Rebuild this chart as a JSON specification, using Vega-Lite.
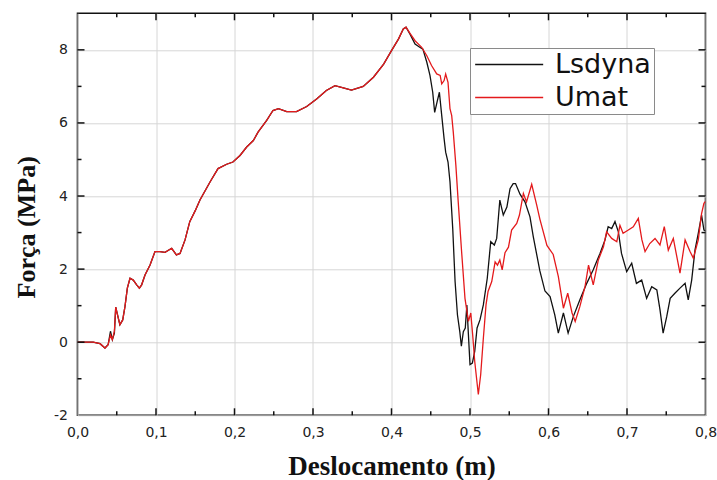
{
  "$schema": "https://vega.github.io/schema/vega-lite/v6.json",
  "width": 628,
  "height": 402,
  "autosize": {"type": "none"},
  "padding": {"left": 77.5, "top": 13.3, "right": 11.5, "bottom": 64.7},
  "background": "white",
  "config": {"view": {"stroke": "#111111", "strokeWidth": 1.6}},
  "datasets": {
    "xmaj": [{"x":0.1},{"x":0.2},{"x":0.3},{"x":0.4},{"x":0.5},{"x":0.6},{"x":0.7}],
    "xmin": [{"x":0.05},{"x":0.15},{"x":0.25},{"x":0.35},{"x":0.45},{"x":0.55},{"x":0.65},{"x":0.75}],
    "ymaj": [{"y":0},{"y":2},{"y":4},{"y":6},{"y":8}],
    "ymin": [{"y":-1},{"y":1},{"y":3},{"y":5},{"y":7}],
    "series": [
    {"s":"Lsdyna","x":0,"y":0},{"s":"Lsdyna","x":0.01,"y":0},{"s":"Lsdyna","x":0.02,"y":0},{"s":"Lsdyna","x":0.0287,"y":-0.04},{"s":"Lsdyna","x":0.035,"y":-0.16},{"s":"Lsdyna","x":0.039,"y":-0.07},{"s":"Lsdyna","x":0.042,"y":0.3},{"s":"Lsdyna","x":0.0444,"y":0.07},{"s":"Lsdyna","x":0.047,"y":0.25},{"s":"Lsdyna","x":0.0487,"y":0.96},{"s":"Lsdyna","x":0.051,"y":0.75},{"s":"Lsdyna","x":0.054,"y":0.48},{"s":"Lsdyna","x":0.0576,"y":0.61},{"s":"Lsdyna","x":0.0605,"y":0.98},{"s":"Lsdyna","x":0.0635,"y":1.48},{"s":"Lsdyna","x":0.0669,"y":1.75},{"s":"Lsdyna","x":0.071,"y":1.7},{"s":"Lsdyna","x":0.0754,"y":1.57},{"s":"Lsdyna","x":0.0788,"y":1.48},{"s":"Lsdyna","x":0.0817,"y":1.57},{"s":"Lsdyna","x":0.086,"y":1.84},{"s":"Lsdyna","x":0.0924,"y":2.11},{"s":"Lsdyna","x":0.0987,"y":2.48},{"s":"Lsdyna","x":0.105,"y":2.48},{"s":"Lsdyna","x":0.1115,"y":2.46},{"s":"Lsdyna","x":0.12,"y":2.57},{"s":"Lsdyna","x":0.126,"y":2.39},{"s":"Lsdyna","x":0.1306,"y":2.43},{"s":"Lsdyna","x":0.137,"y":2.8},{"s":"Lsdyna","x":0.143,"y":3.3},{"s":"Lsdyna","x":0.15,"y":3.6},{"s":"Lsdyna","x":0.156,"y":3.89},{"s":"Lsdyna","x":0.169,"y":4.39},{"s":"Lsdyna","x":0.179,"y":4.75},{"s":"Lsdyna","x":0.19,"y":4.87},{"s":"Lsdyna","x":0.198,"y":4.93},{"s":"Lsdyna","x":0.207,"y":5.11},{"s":"Lsdyna","x":0.2155,"y":5.34},{"s":"Lsdyna","x":0.224,"y":5.52},{"s":"Lsdyna","x":0.23,"y":5.75},{"s":"Lsdyna","x":0.241,"y":6.07},{"s":"Lsdyna","x":0.249,"y":6.34},{"s":"Lsdyna","x":0.256,"y":6.39},{"s":"Lsdyna","x":0.2665,"y":6.31},{"s":"Lsdyna","x":0.279,"y":6.31},{"s":"Lsdyna","x":0.292,"y":6.45},{"s":"Lsdyna","x":0.305,"y":6.66},{"s":"Lsdyna","x":0.317,"y":6.89},{"s":"Lsdyna","x":0.328,"y":7.02},{"s":"Lsdyna","x":0.3386,"y":6.96},{"s":"Lsdyna","x":0.349,"y":6.9},{"s":"Lsdyna","x":0.364,"y":7.0},{"s":"Lsdyna","x":0.377,"y":7.25},{"s":"Lsdyna","x":0.39,"y":7.61},{"s":"Lsdyna","x":0.4,"y":7.98},{"s":"Lsdyna","x":0.409,"y":8.3},{"s":"Lsdyna","x":0.415,"y":8.57},{"s":"Lsdyna","x":0.4185,"y":8.62},
    {"s":"Lsdyna","x":0.4236,"y":8.43},{"s":"Lsdyna","x":0.43,"y":8.16},{"s":"Lsdyna","x":0.436,"y":8.07},{"s":"Lsdyna","x":0.44,"y":8.02},{"s":"Lsdyna","x":0.445,"y":7.66},{"s":"Lsdyna","x":0.449,"y":7.3},{"s":"Lsdyna","x":0.4525,"y":6.84},{"s":"Lsdyna","x":0.455,"y":6.29},{"s":"Lsdyna","x":0.458,"y":6.57},{"s":"Lsdyna","x":0.461,"y":6.84},{"s":"Lsdyna","x":0.464,"y":6.2},{"s":"Lsdyna","x":0.467,"y":5.57},{"s":"Lsdyna","x":0.469,"y":5.2},{"s":"Lsdyna","x":0.472,"y":4.93},{"s":"Lsdyna","x":0.4745,"y":4.39},{"s":"Lsdyna","x":0.478,"y":3.11},{"s":"Lsdyna","x":0.481,"y":1.66},{"s":"Lsdyna","x":0.484,"y":0.75},{"s":"Lsdyna","x":0.487,"y":0.29},{"s":"Lsdyna","x":0.489,"y":-0.11},{"s":"Lsdyna","x":0.4915,"y":0.29},{"s":"Lsdyna","x":0.494,"y":0.39},{"s":"Lsdyna","x":0.496,"y":1.02},{"s":"Lsdyna","x":0.498,"y":0.2},{"s":"Lsdyna","x":0.5,"y":-0.61},{"s":"Lsdyna","x":0.503,"y":-0.57},{"s":"Lsdyna","x":0.506,"y":-0.25},{"s":"Lsdyna","x":0.509,"y":0.39},{"s":"Lsdyna","x":0.5127,"y":0.61},{"s":"Lsdyna","x":0.517,"y":1.02},{"s":"Lsdyna","x":0.522,"y":1.75},{"s":"Lsdyna","x":0.5264,"y":2.75},{"s":"Lsdyna","x":0.531,"y":2.66},{"s":"Lsdyna","x":0.534,"y":2.84},{"s":"Lsdyna","x":0.538,"y":3.89},{"s":"Lsdyna","x":0.5424,"y":3.48},{"s":"Lsdyna","x":0.547,"y":3.7},{"s":"Lsdyna","x":0.551,"y":4.2},{"s":"Lsdyna","x":0.555,"y":4.34},{"s":"Lsdyna","x":0.558,"y":4.34},{"s":"Lsdyna","x":0.5637,"y":4.05},{"s":"Lsdyna","x":0.57,"y":3.84},{"s":"Lsdyna","x":0.5764,"y":3.43},{"s":"Lsdyna","x":0.5806,"y":2.89},{"s":"Lsdyna","x":0.589,"y":1.95},{"s":"Lsdyna","x":0.5955,"y":1.4},{"s":"Lsdyna","x":0.602,"y":1.25},{"s":"Lsdyna","x":0.608,"y":0.75},{"s":"Lsdyna","x":0.6125,"y":0.25},{"s":"Lsdyna","x":0.619,"y":0.8},{"s":"Lsdyna","x":0.625,"y":0.25},{"s":"Lsdyna","x":0.6316,"y":0.7},{"s":"Lsdyna","x":0.64,"y":1.16},{"s":"Lsdyna","x":0.6487,"y":1.61},{"s":"Lsdyna","x":0.657,"y":1.98},{"s":"Lsdyna","x":0.6656,"y":2.43},{"s":"Lsdyna","x":0.672,"y":2.8},{"s":"Lsdyna","x":0.676,"y":3.16},{"s":"Lsdyna","x":0.6805,"y":3.11},{"s":"Lsdyna","x":0.6847,"y":3.3},{"s":"Lsdyna","x":0.689,"y":3.02},{"s":"Lsdyna","x":0.693,"y":2.43},{"s":"Lsdyna","x":0.6996,"y":1.93},{"s":"Lsdyna","x":0.706,"y":2.16},{"s":"Lsdyna","x":0.712,"y":1.61},{"s":"Lsdyna","x":0.7187,"y":1.7},{"s":"Lsdyna","x":0.725,"y":1.2},{"s":"Lsdyna","x":0.7315,"y":1.52},{"s":"Lsdyna","x":0.738,"y":1.43},{"s":"Lsdyna","x":0.742,"y":0.89},{"s":"Lsdyna","x":0.746,"y":0.25},{"s":"Lsdyna","x":0.7506,"y":0.7},{"s":"Lsdyna","x":0.755,"y":1.2},{"s":"Lsdyna","x":0.761,"y":1.34},{"s":"Lsdyna","x":0.7675,"y":1.48},{"s":"Lsdyna","x":0.774,"y":1.61},{"s":"Lsdyna","x":0.778,"y":1.16},{"s":"Lsdyna","x":0.7824,"y":1.7},{"s":"Lsdyna","x":0.7866,"y":2.52},{"s":"Lsdyna","x":0.7908,"y":2.98},{"s":"Lsdyna","x":0.795,"y":3.48},{"s":"Lsdyna","x":0.798,"y":3.07},{"s":"Lsdyna","x":0.8,"y":3.05},
    {"s":"Umat","x":0,"y":0},{"s":"Umat","x":0.01,"y":0},{"s":"Umat","x":0.02,"y":0},{"s":"Umat","x":0.0287,"y":-0.04},{"s":"Umat","x":0.035,"y":-0.16},{"s":"Umat","x":0.039,"y":-0.07},{"s":"Umat","x":0.042,"y":0.2},{"s":"Umat","x":0.0444,"y":0.07},{"s":"Umat","x":0.047,"y":0.3},{"s":"Umat","x":0.0487,"y":0.96},{"s":"Umat","x":0.051,"y":0.75},{"s":"Umat","x":0.054,"y":0.48},{"s":"Umat","x":0.0576,"y":0.61},{"s":"Umat","x":0.0605,"y":0.98},{"s":"Umat","x":0.0635,"y":1.48},{"s":"Umat","x":0.0669,"y":1.75},{"s":"Umat","x":0.071,"y":1.7},{"s":"Umat","x":0.0754,"y":1.57},{"s":"Umat","x":0.0788,"y":1.48},{"s":"Umat","x":0.0817,"y":1.57},{"s":"Umat","x":0.086,"y":1.84},{"s":"Umat","x":0.0924,"y":2.11},{"s":"Umat","x":0.0987,"y":2.48},{"s":"Umat","x":0.105,"y":2.48},{"s":"Umat","x":0.1115,"y":2.46},{"s":"Umat","x":0.12,"y":2.57},{"s":"Umat","x":0.126,"y":2.39},{"s":"Umat","x":0.1306,"y":2.43},{"s":"Umat","x":0.137,"y":2.8},{"s":"Umat","x":0.143,"y":3.3},{"s":"Umat","x":0.15,"y":3.6},{"s":"Umat","x":0.156,"y":3.89},{"s":"Umat","x":0.169,"y":4.39},{"s":"Umat","x":0.179,"y":4.75},{"s":"Umat","x":0.19,"y":4.87},{"s":"Umat","x":0.198,"y":4.93},{"s":"Umat","x":0.207,"y":5.11},{"s":"Umat","x":0.2155,"y":5.34},{"s":"Umat","x":0.224,"y":5.52},{"s":"Umat","x":0.23,"y":5.75},{"s":"Umat","x":0.241,"y":6.07},{"s":"Umat","x":0.249,"y":6.34},{"s":"Umat","x":0.256,"y":6.39},{"s":"Umat","x":0.2665,"y":6.31},{"s":"Umat","x":0.279,"y":6.31},{"s":"Umat","x":0.292,"y":6.45},{"s":"Umat","x":0.305,"y":6.66},{"s":"Umat","x":0.317,"y":6.89},{"s":"Umat","x":0.328,"y":7.02},{"s":"Umat","x":0.3386,"y":6.96},{"s":"Umat","x":0.349,"y":6.9},{"s":"Umat","x":0.364,"y":7.0},{"s":"Umat","x":0.377,"y":7.25},{"s":"Umat","x":0.39,"y":7.61},{"s":"Umat","x":0.4,"y":7.98},{"s":"Umat","x":0.409,"y":8.3},{"s":"Umat","x":0.415,"y":8.57},{"s":"Umat","x":0.4185,"y":8.62},{"s":"Umat","x":0.4236,"y":8.45},
    {"s":"Umat","x":0.43,"y":8.25},{"s":"Umat","x":0.4385,"y":8.07},{"s":"Umat","x":0.445,"y":7.84},{"s":"Umat","x":0.451,"y":7.57},{"s":"Umat","x":0.4576,"y":7.34},{"s":"Umat","x":0.462,"y":7.3},{"s":"Umat","x":0.464,"y":7.07},{"s":"Umat","x":0.467,"y":7.16},{"s":"Umat","x":0.469,"y":7.34},{"s":"Umat","x":0.472,"y":7.11},{"s":"Umat","x":0.4745,"y":6.39},{"s":"Umat","x":0.4767,"y":6.2},{"s":"Umat","x":0.4787,"y":5.75},{"s":"Umat","x":0.482,"y":4.84},{"s":"Umat","x":0.485,"y":3.84},{"s":"Umat","x":0.489,"y":2.57},{"s":"Umat","x":0.4936,"y":1.2},{"s":"Umat","x":0.498,"y":0.57},{"s":"Umat","x":0.501,"y":0.8},{"s":"Umat","x":0.5034,"y":0.2},{"s":"Umat","x":0.506,"y":-0.52},{"s":"Umat","x":0.5106,"y":-1.43},{"s":"Umat","x":0.5136,"y":-0.89},{"s":"Umat","x":0.517,"y":0.11},{"s":"Umat","x":0.5204,"y":1.02},{"s":"Umat","x":0.523,"y":1.39},{"s":"Umat","x":0.5277,"y":1.66},{"s":"Umat","x":0.532,"y":2.2},{"s":"Umat","x":0.535,"y":2.11},{"s":"Umat","x":0.538,"y":2.25},{"s":"Umat","x":0.541,"y":1.98},{"s":"Umat","x":0.5446,"y":2.45},{"s":"Umat","x":0.549,"y":2.6},{"s":"Umat","x":0.553,"y":3.07},{"s":"Umat","x":0.5595,"y":3.25},{"s":"Umat","x":0.563,"y":3.48},{"s":"Umat","x":0.568,"y":4.07},{"s":"Umat","x":0.572,"y":3.84},{"s":"Umat","x":0.5786,"y":4.32},{"s":"Umat","x":0.585,"y":3.75},{"s":"Umat","x":0.589,"y":3.37},{"s":"Umat","x":0.598,"y":2.65},{"s":"Umat","x":0.606,"y":2.4},{"s":"Umat","x":0.6125,"y":1.8},{"s":"Umat","x":0.619,"y":0.93},{"s":"Umat","x":0.6245,"y":1.34},{"s":"Umat","x":0.63,"y":0.8},{"s":"Umat","x":0.634,"y":0.57},{"s":"Umat","x":0.64,"y":0.98},{"s":"Umat","x":0.6465,"y":1.52},{"s":"Umat","x":0.651,"y":2.11},{"s":"Umat","x":0.657,"y":1.57},{"s":"Umat","x":0.6635,"y":2.25},{"s":"Umat","x":0.67,"y":2.61},{"s":"Umat","x":0.674,"y":3.02},{"s":"Umat","x":0.6805,"y":2.84},{"s":"Umat","x":0.687,"y":2.75},{"s":"Umat","x":0.691,"y":3.2},{"s":"Umat","x":0.695,"y":2.98},{"s":"Umat","x":0.7017,"y":3.07},{"s":"Umat","x":0.708,"y":3.16},{"s":"Umat","x":0.7144,"y":3.39},{"s":"Umat","x":0.719,"y":2.8},{"s":"Umat","x":0.723,"y":2.48},{"s":"Umat","x":0.729,"y":2.7},{"s":"Umat","x":0.7357,"y":2.84},{"s":"Umat","x":0.742,"y":2.66},{"s":"Umat","x":0.7475,"y":3.16},{"s":"Umat","x":0.7526,"y":2.52},{"s":"Umat","x":0.759,"y":2.84},{"s":"Umat","x":0.7675,"y":1.89},{"s":"Umat","x":0.774,"y":2.8},{"s":"Umat","x":0.7803,"y":2.48},{"s":"Umat","x":0.7845,"y":2.3},{"s":"Umat","x":0.7908,"y":2.8},{"s":"Umat","x":0.795,"y":3.52},{"s":"Umat","x":0.798,"y":3.8},{"s":"Umat","x":0.8,"y":3.85}
    ]
  },
  "layer": [
    {
      "data": {"name": "series"},
      "mark": {"type": "line", "strokeWidth": 1.3, "clip": true},
      "encoding": {
        "x": {"field": "x", "type": "quantitative", "scale": {"domain": [0, 0.8], "nice": false, "zero": false},
          "axis": {"orient": "bottom", "values": [0,0.1,0.2,0.3,0.4,0.5,0.6,0.7,0.8],
            "domain": false, "ticks": false, "labelOverlap": false, "labelFlush": false,
            "labelExpr": "replace(format(datum.value,'.1f'),'.',',')",
            "labelFont": "DejaVu Sans", "labelFontSize": 14, "labelColor": "#222222", "labelPadding": 10,
            "grid": true, "gridColor": "#d6d6d6", "gridWidth": 1,
            "title": "Deslocamento (m)", "titleFont": "Liberation Serif", "titleFontSize": 27, "titleFontWeight": "bold", "titleColor": "#111111",
            "titleY": 59.5, "titleBaseline": "alphabetic"}},
        "y": {"field": "y", "type": "quantitative", "scale": {"domain": [-2, 9], "nice": false, "zero": false},
          "axis": {"orient": "left", "values": [-2,0,2,4,6,8],
            "domain": false, "ticks": false, "labelOverlap": false, "labelFlush": false,
            "labelExpr": "'' + datum.value",
            "labelFont": "DejaVu Sans", "labelFontSize": 14, "labelColor": "#222222", "labelPadding": 10,
            "grid": true, "gridColor": "#d6d6d6", "gridWidth": 1,
            "title": "Força (MPa)", "titleFont": "Liberation Serif", "titleFontSize": 26, "titleFontWeight": "bold", "titleColor": "#111111",
            "titleX": -43.5, "titleY": 213.5, "titleBaseline": "alphabetic"}},
        "color": {"field": "s", "type": "nominal",
          "scale": {"domain": ["Lsdyna", "Umat"], "range": ["#111111", "#e41a1c"]},
          "legend": {"orient": "none", "legendX": 392.5, "legendY": 34.7, "title": null,
            "symbolType": "M-1,0H5", "symbolSize": 514, "symbolStrokeWidth": 1.3,
            "labelFont": "DejaVu Sans", "labelFontSize": 27, "labelColor": "#111111", "labelOffset": 55, "labelLimit": 400,
            "strokeColor": "#8a8a8a", "fillColor": "white", "padding": 3, "rowPadding": 5}}
      }
    },
    {"data": {"name": "xmaj"}, "mark": {"type": "tick", "orient": "vertical", "size": 7, "thickness": 1.5, "color": "#111111", "opacity": 1, "yOffset": -3.5},
     "encoding": {"x": {"field": "x", "type": "quantitative"}, "y": {"datum": -2, "type": "quantitative"}}},
    {"data": {"name": "xmin"}, "mark": {"type": "tick", "orient": "vertical", "size": 4, "thickness": 1.5, "color": "#111111", "opacity": 1, "yOffset": -2},
     "encoding": {"x": {"field": "x", "type": "quantitative"}, "y": {"datum": -2, "type": "quantitative"}}},
    {"data": {"name": "xmaj"}, "mark": {"type": "tick", "orient": "vertical", "size": 7, "thickness": 1.5, "color": "#111111", "opacity": 1, "yOffset": 3.5},
     "encoding": {"x": {"field": "x", "type": "quantitative"}, "y": {"datum": 9, "type": "quantitative"}}},
    {"data": {"name": "xmin"}, "mark": {"type": "tick", "orient": "vertical", "size": 4, "thickness": 1.5, "color": "#111111", "opacity": 1, "yOffset": 2},
     "encoding": {"x": {"field": "x", "type": "quantitative"}, "y": {"datum": 9, "type": "quantitative"}}},
    {"data": {"name": "ymaj"}, "mark": {"type": "tick", "orient": "horizontal", "size": 7, "thickness": 1.5, "color": "#111111", "opacity": 1, "xOffset": 3.5},
     "encoding": {"y": {"field": "y", "type": "quantitative"}, "x": {"datum": 0, "type": "quantitative"}}},
    {"data": {"name": "ymin"}, "mark": {"type": "tick", "orient": "horizontal", "size": 4, "thickness": 1.5, "color": "#111111", "opacity": 1, "xOffset": 2},
     "encoding": {"y": {"field": "y", "type": "quantitative"}, "x": {"datum": 0, "type": "quantitative"}}},
    {"data": {"name": "ymaj"}, "mark": {"type": "tick", "orient": "horizontal", "size": 7, "thickness": 1.5, "color": "#111111", "opacity": 1, "xOffset": -3.5},
     "encoding": {"y": {"field": "y", "type": "quantitative"}, "x": {"datum": 0.8, "type": "quantitative"}}},
    {"data": {"name": "ymin"}, "mark": {"type": "tick", "orient": "horizontal", "size": 4, "thickness": 1.5, "color": "#111111", "opacity": 1, "xOffset": -2},
     "encoding": {"y": {"field": "y", "type": "quantitative"}, "x": {"datum": 0.8, "type": "quantitative"}}}
  ]
}
